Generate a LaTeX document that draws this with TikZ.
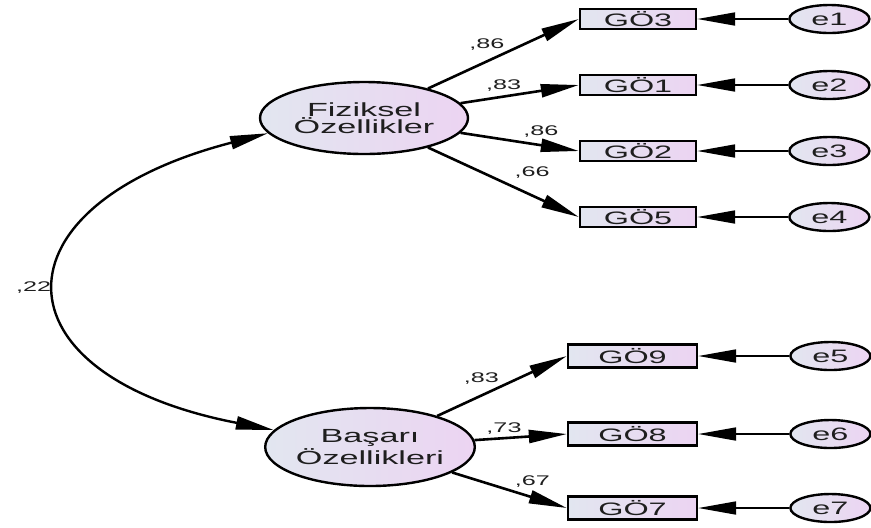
\documentclass[tikz,border=0pt]{standalone}
\usepackage{fontspec}
\setmainfont{Liberation Sans}[FakeStretch=1.8]
\usetikzlibrary{positioning,shapes.geometric,arrows.meta}
\definecolor{amosleft}{RGB}{226,230,240}
\definecolor{amosright}{RGB}{236,212,242}
\definecolor{amostext}{RGB}{30,30,30}

\begin{document}
\begin{tikzpicture}[x=0.5pt, y=-0.5pt, >={Triangle[length=19pt,width=6.5pt]},
	lat/.style={ellipse, draw, line width=1.2pt, left color=amosleft, right color=amosright, inner sep=0pt, align=center, text=amostext, font=\fontsize{9.5}{8.7}\selectfont},
	obs/.style={rectangle, draw, line width=1.2pt, left color=amosleft, right color=amosright, inner sep=0pt, minimum width=58pt, minimum height=10pt, text=amostext, font=\fontsize{9}{10}\selectfont},
	wide/.style={minimum width=64.5pt, minimum height=11.5pt},
	err/.style={ellipse, draw, line width=1.2pt, left color=amosleft, right color=amosright, inner sep=0pt, minimum width=40pt, minimum height=14pt, text=amostext, font=\fontsize{9}{10}\selectfont},
	lbl/.style={inner sep=0pt, text=amostext, font=\fontsize{7}{8}\selectfont}]
		\useasboundingbox (0,0) rectangle (871,527);

		\node [lat, minimum width=104pt, minimum height=36pt] (FO) at (364,118) {Fiziksel\\Özellikler};
		\node [lat, minimum width=97pt, minimum height=39pt] (BO) at (370,447) {Başarı\\Özellikleri};

		\node [obs] (G3) at (638,19) {GÖ3};
		\node [obs] (G1) at (638,85) {GÖ1};
		\node [obs] (G2) at (638,151) {GÖ2};
		\node [obs] (G5) at (638,217) {GÖ5};
		\node [obs, wide] (G9) at (632.5,356) {GÖ9};
		\node [obs, wide] (G8) at (632.5,434) {GÖ8};
		\node [obs, wide] (G7) at (632.5,508) {GÖ7};

		\node [err, right=45.5pt of G3] (e1) {e1};
		\node [err, right=45.5pt of G1] (e2) {e2};
		\node [err, right=45.5pt of G2] (e3) {e3};
		\node [err, right=45.5pt of G5] (e4) {e4};
		\node [err, right=45.5pt of G9] (e5) {e5};
		\node [err, right=45.5pt of G8] (e6) {e6};
		\node [err, right=45.5pt of G7] (e7) {e7};

		\path[->, line width=1.3pt] (FO) edge node [lbl, pos=.39, yshift=8.5pt] (l1) {,86} (G3.west);
		\path[->, line width=1.3pt] (FO) edge node [lbl, pos=.365, yshift=5.5pt] (l2) {,83} (G1.west);
		\path[->, line width=1.3pt] (FO) edge node [lbl, pos=.68, yshift=6.8pt] (l3) {,86} (G2.west);
		\path[->, line width=1.3pt] (FO) edge node [lbl, pos=.69, yshift=11.5pt] (l4) {,66} (G5.west);
		\path[->, line width=1.3pt] (BO) edge node [lbl, pos=.34, yshift=8.5pt] (l5) {,83} (G9.west);
		\path[->, line width=1.3pt] (BO) edge node [lbl, pos=.32, yshift=4.9pt] (l6) {,73} (G8.west);
		\path[->, line width=1.3pt] (BO) edge node [lbl, pos=.70, yshift=8pt] (l7) {,67} (G7.west);

		\path[->, line width=.9pt] (e1) edge (G3);
		\path[->, line width=.9pt] (e2) edge (G1);
		\path[->, line width=.9pt] (e3) edge (G2);
		\path[->, line width=.9pt] (e4) edge (G5);
		\path[->, line width=.9pt] (e5) edge (G9);
		\path[->, line width=.9pt] (e6) edge (G8);
		\path[->, line width=.9pt] (e7) edge (G7);

		\draw[<->, line width=1.2pt] (FO.189) .. controls (-10,205) and (-10,375) .. node [lbl, pos=.5, left=4pt] (cov) {,22} (BO.170.5);
	\end{tikzpicture}
\end{document}
